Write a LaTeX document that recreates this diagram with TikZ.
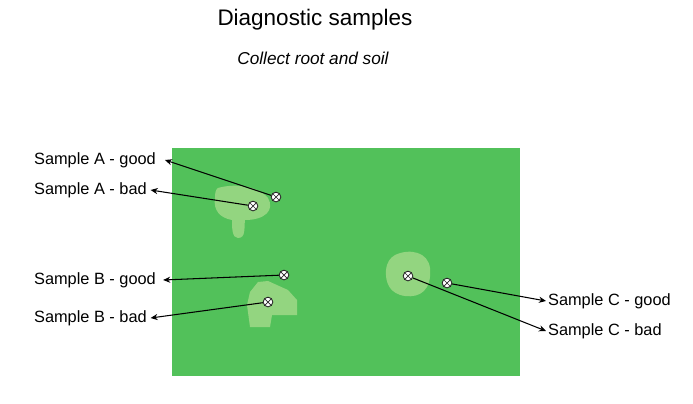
\documentclass[tikz,border=0pt]{standalone}
\usepackage{fontspec}
\usetikzlibrary{arrows.meta}
\setmainfont{Liberation Sans}
\definecolor{field}{HTML}{52C15A}
\definecolor{patch}{HTML}{93D580}
\begin{document}
\begin{tikzpicture}[x=0.02cm,y=-0.02cm,
  mk/.style={circle,draw=black!85,fill=white,line width=0.5pt,inner sep=0pt,minimum size=5.5pt,
    path picture={\draw[black!85,line width=0.4pt] (path picture bounding box.south west)--(path picture bounding box.north east) (path picture bounding box.north west)--(path picture bounding box.south east);}},
  lab/.style={font=\fontsize{9.3}{10}\selectfont,inner sep=1pt},
  arr/.style={-{Stealth[length=4pt,width=3.5pt]},line width=0.6pt}]
\useasboundingbox (0,0) rectangle (693,403);
\node[font=\fontsize{12.8}{14}\selectfont] (t) at (315,20) {Diagnostic samples};
\node[font=\fontsize{9.8}{11}\selectfont\itshape] (s) at (313,58) {Collect root and soil};
\fill[field] (172,148) rectangle (520,376);
\fill[patch] (218,188) .. controls (235,183) and (258,186) .. (268,198) .. controls (275,210) and (265,220) .. (245,220) .. controls (244,228) and (246,238) .. (238,238) .. controls (232,238) and (232,228) .. (232,220) .. controls (220,218) and (213,210) .. (215,198) .. controls (215,192) and (216,189) .. (218,188) -- cycle;
\fill[patch] (258,282) -- (268,281) -- (288,290) -- (297,300) -- (297,315) -- (272,315) -- (270,327) -- (250,327) -- (247,305) -- (250,292) -- cycle;
\fill[patch] (395,255) .. controls (410,248) and (428,252) .. (430,268) .. controls (432,290) and (420,298) .. (405,296) .. controls (390,294) and (385,283) .. (386,270) .. controls (387,262) and (390,258) .. (395,255) -- cycle;
\node[mk] (ag) at (276,197) {};
\node[mk] (ab) at (253,206) {};
\node[mk] (bg) at (284,275) {};
\node[mk] (bb) at (268,302) {};
\node[mk] (cb) at (408,276) {};
\node[mk] (cg) at (447,283) {};
\node[lab,anchor=west] (lag) at (32,160) {Sample A - good};
\node[lab,anchor=west] (lab) at (32,190) {Sample A - bad};
\node[lab,anchor=west] (lbg) at (32,280) {Sample B - good};
\node[lab,anchor=west] (lbb) at (32,318) {Sample B - bad};
\node[lab,anchor=west] (lcg) at (546,301) {Sample C - good};
\node[lab,anchor=west] (lcb) at (546,331) {Sample C - bad};
\draw[arr] (ag) -- ([xshift=4pt]lag.east);
\draw[arr] (ab) -- ([xshift=1pt]lab.east);
\draw[arr] (bg) -- ([xshift=3pt]lbg.east);
\draw[arr] (bb) -- ([xshift=1pt]lbb.east);
\draw[arr] (cg) -- (lcg.west);
\draw[arr] (cb) -- (lcb.west);
\end{tikzpicture}
\end{document}
